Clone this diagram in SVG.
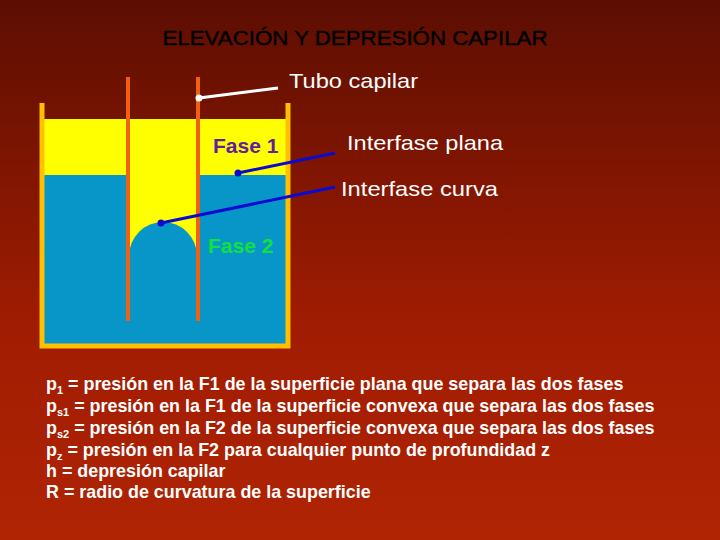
<svg xmlns="http://www.w3.org/2000/svg" width="720" height="540" viewBox="0 0 720 540">
<defs>
<linearGradient id="bg" x1="0" y1="0" x2="0" y2="1">
<stop offset="0" stop-color="#5c0e02"/><stop offset="0.6" stop-color="#a01c02"/><stop offset="1" stop-color="#b02404"/>
</linearGradient>
<clipPath id="tube"><rect x="128" y="100" width="70" height="240"/></clipPath>
</defs>
<style>
text{font-family:"Liberation Sans",Arial,sans-serif;font-size:21px}
.w{fill:#fff}.b{font-weight:bold;font-size:17.9px;fill:#fff}
.wall{stroke:#ffc000;stroke-width:5;fill:none}
.tb{stroke:#f06010;stroke-width:4}
.bl{stroke:#0a0ad0;stroke-width:3}
</style>
<rect width="720" height="540" fill="url(#bg)"/>
<text x="355" y="45" text-anchor="middle" fill="#000" font-size="19" textLength="385" lengthAdjust="spacingAndGlyphs" stroke="#000" stroke-width="0.4">ELEVACIÓN Y DEPRESIÓN CAPILAR</text>
<g id="container">
<rect x="43" y="119" width="244" height="56" fill="#ffff00"/>
<rect x="43" y="175" width="244" height="171" fill="#0896c8"/>
<rect x="128" y="175" width="70" height="80" fill="#ffff00"/>
<g clip-path="url(#tube)"><circle cx="163" cy="256" r="34" fill="#0896c8"/></g>
<polyline class="wall" points="42,103 42,346 288,346 288,103"/>
</g>
<g id="tubes">
<line class="tb" x1="128" y1="77" x2="128" y2="321"/>
<line class="tb" x1="198" y1="77" x2="198" y2="321"/>
</g>
<g id="connectors">
<line x1="199" y1="98" x2="278" y2="88" stroke="#fff" stroke-width="3"/>
<circle cx="199" cy="98" r="3.5" fill="#fff"/>
<line class="bl" x1="238" y1="173" x2="335" y2="153"/>
<circle cx="238" cy="173" r="3.5" fill="#0a0ad0"/>
<line class="bl" x1="161" y1="223" x2="335" y2="187"/>
<circle cx="161" cy="223" r="3.5" fill="#0a0ad0"/>
</g>
<text x="213" y="153" fill="#6020a0" font-weight="bold" font-size="20">Fase 1</text>
<text x="208" y="253" fill="#10e040" font-weight="bold" font-size="20">Fase 2</text>
<text class="w" x="289" y="88" textLength="129" lengthAdjust="spacingAndGlyphs">Tubo capilar</text>
<text class="w" x="347" y="150" textLength="156" lengthAdjust="spacingAndGlyphs">Interfase plana</text>
<text class="w" x="341" y="196" textLength="157" lengthAdjust="spacingAndGlyphs">Interfase curva</text>
<g class="b">
<text class="b" x="46" y="390">p<tspan font-size="11" dy="4">1</tspan><tspan dy="-4"> = presión en la F1 de la superficie plana que separa las dos fases</tspan></text>
<text class="b" x="46" y="412">p<tspan font-size="11" dy="4">s1</tspan><tspan dy="-4"> = presión en la F1 de la superficie convexa que separa las dos fases</tspan></text>
<text class="b" x="46" y="434">p<tspan font-size="11" dy="4">s2</tspan><tspan dy="-4"> = presión en la F2 de la superficie convexa que separa las dos fases</tspan></text>
<text class="b" x="46" y="456">p<tspan font-size="11" dy="4">z</tspan><tspan dy="-4"> = presión en la F2 para cualquier punto de profundidad z</tspan></text>
<text class="b" x="46" y="477">h = depresión capilar</text>
<text class="b" x="46" y="498">R = radio de curvatura de la superficie</text>
</g>
</svg>
